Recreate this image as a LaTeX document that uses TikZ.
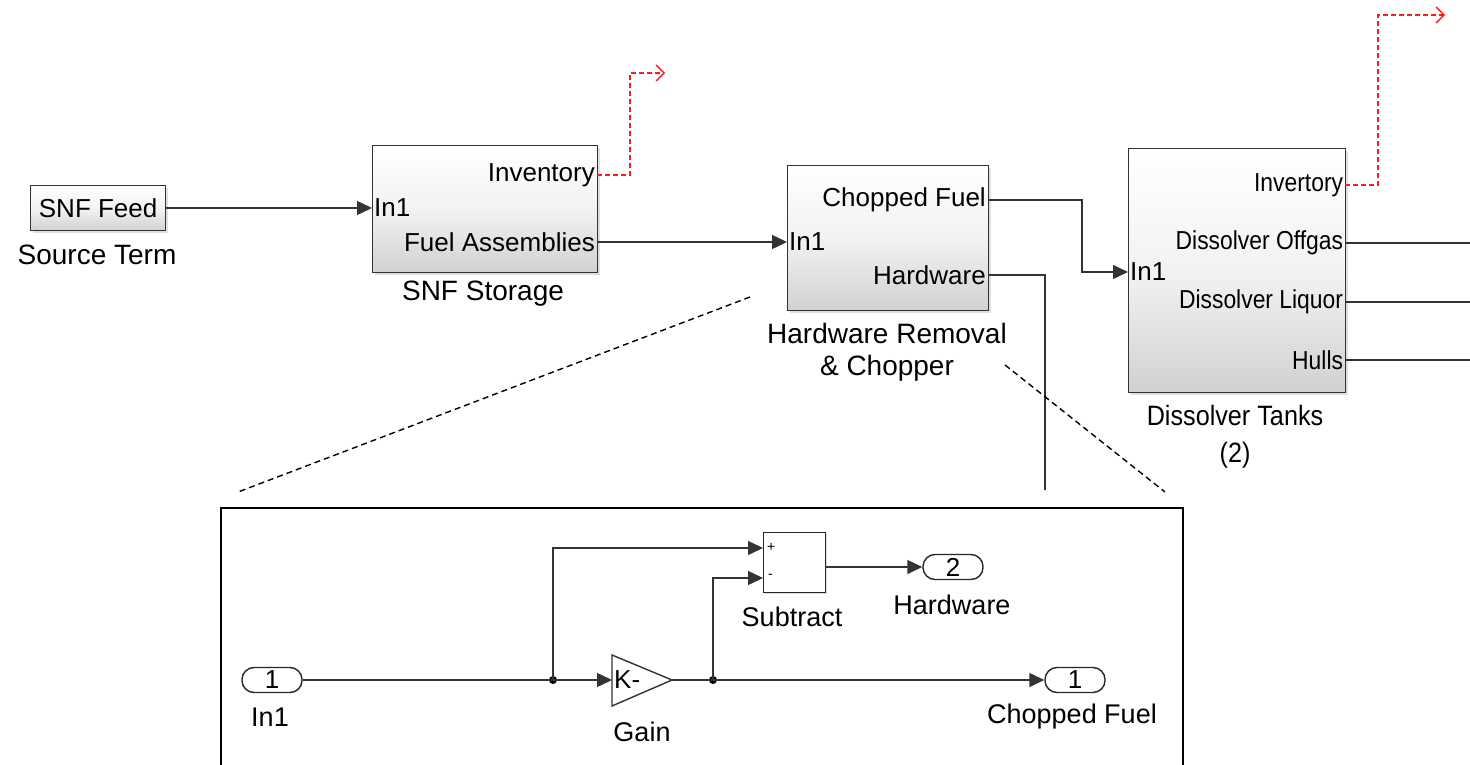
\documentclass[tikz,border=0pt]{standalone}
\usepackage{fontspec}
\setmainfont{Liberation Sans}
\usetikzlibrary{arrows.meta,shadows}
\newcommand\fsPort{\fontsize{26}{30}\selectfont}
\newcommand\fsLbl{\fontsize{28}{32}\selectfont}
\newcommand\fsIn{\fontsize{26}{30}\selectfont}
\newcommand\fsZ{\fontsize{27}{31}\selectfont}
\begin{document}
\begin{tikzpicture}[x=1pt,y=-1pt,
  blk/.style={draw=black!80, line width=1.3pt, top color=white, bottom color=black!18,
    middle color=black!5, drop shadow={shadow xshift=2pt, shadow yshift=-2pt, fill=black!25},
    anchor=north west, inner sep=0pt},
  wire/.style={draw=black!80, line width=1.4pt},
  arr/.style={wire, -{Triangle[length=15pt,width=14pt]}},
  sig/.style={draw=red!90, line width=1.4pt, dash pattern=on 5pt off 3pt, -{Straight Barb[length=8pt,width=16pt]}},
  zoomln/.style={draw=black, line width=1.4pt, dash pattern=on 6pt off 4pt},
  plbl/.style={font=\fsPort, inner sep=2pt},
  lbl/.style={font=\fsLbl, inner sep=0pt},
  zlbl/.style={font=\fsZ, inner sep=0pt},
  port/.style={draw=black!85, line width=1.4pt, rounded corners=12pt, minimum width=60pt, minimum height=25pt, inner sep=0pt, font=\fsIn},
  dot/.style={fill=black, circle, inner sep=0pt, minimum size=8pt}
]
\path[use as bounding box] (0,0) rectangle (1470,765);

% ---------- top level ----------
\node[blk, minimum width=135pt, minimum height=45pt, font=\fsIn] (feed) at (30,185) {SNF Feed};
\node[lbl] (feedl) at (97,255) {Source Term};

\node[blk, minimum width=225pt, minimum height=127pt] (stor) at (372,145) {};
\coordinate (sin) at (372,208);
\coordinate (sinv) at (597,175);
\coordinate (sfa) at (597,242);
\node[plbl, anchor=east] at (sinv) {Inventory};
\node[plbl, anchor=west] at (sin) {In1};
\node[plbl, anchor=east] at (sfa) {Fuel Assemblies};
\node[lbl] (storl) at (483,294) {SNF Storage};

\node[blk, minimum width=201pt, minimum height=145pt] (hw) at (787,165) {};
\coordinate (hin) at (787,242);
\coordinate (hcf) at (988,200);
\coordinate (hhw) at (988,275);
\node[plbl, anchor=east] at (hcf) {Chopped Fuel};
\node[plbl, anchor=west] at (hin) {In1};
\node[plbl, anchor=east] at (hhw) {Hardware};
\node[lbl] (hwl1) at (887,333) {Hardware Removal};
\node[lbl] (hwl2) at (887,368) {\& Chopper};

\node[blk, minimum width=217pt, minimum height=244pt] (dis) at (1128,148) {};
\coordinate (din) at (1128,272);
\coordinate (dinv) at (1345,185);
\coordinate (dog) at (1345,243);
\coordinate (dlq) at (1345,302);
\coordinate (dhl) at (1345,360);
\node[plbl, anchor=west] at (din) {In1};
\node[plbl, anchor=east, xscale=0.88] at (dinv) {Invertory};
\node[plbl, anchor=east, xscale=0.88] at (dog) {Dissolver Offgas};
\node[plbl, anchor=east, xscale=0.88] at (dlq) {Dissolver Liquor};
\node[plbl, anchor=east, xscale=0.88] at (dhl) {Hulls};
\node[lbl, xscale=0.9] (disl1) at (1235,415) {Dissolver Tanks};
\node[lbl, xscale=0.9] (disl2) at (1235,455) {(2)};

\coordinate (sredend) at (665,73);
\coordinate (dredend) at (1445,15);
\coordinate (hwend) at (1045,490);
\coordinate (o1) at (1470,243);
\coordinate (o2) at (1470,302);
\coordinate (o3) at (1470,360);

\draw[arr] (feed.east |- sin) -- (sin);
\draw[arr] (sfa) -- (hin);
\draw[arr] (hcf) -- (1082,200) |- (din);
\draw[wire] (hhw) -| (hwend);
\draw[wire] (dog) -- (o1);
\draw[wire] (dlq) -- (o2);
\draw[wire] (dhl) -- (o3);
\draw[sig] (sinv) -- (630,175) |- (sredend);
\draw[sig] (dinv) -- (1378,185) |- (dredend);

% ---------- zoom lines ----------
\coordinate (za) at (750,297);
\coordinate (zb) at (238,492);
\coordinate (zc) at (1005,365);
\coordinate (zd) at (1165,492);
\draw[zoomln] (za) -- (zb);
\draw[zoomln] (zc) -- (zd);

% ---------- zoom box ----------
\node[draw=black, line width=2pt, anchor=north west, minimum width=962pt, minimum height=270pt, inner sep=0pt] (zbox) at (220,507) {};

\node[port] (p1) at (272,680) {1};
\node[zlbl] (p1l) at (270,717) {In1};

\coordinate (gin) at (612,680);
\coordinate (gout) at (672,680);
\draw[wire, fill=white] (612,655) -- (gout) -- (612,706) -- cycle;
\node[font=\fsIn, anchor=west, inner sep=1pt] (gk) at (613,680) {K-};
\node[zlbl] (gl) at (642,732) {Gain};

\node[draw=black!85, line width=1.4pt, anchor=north west, minimum width=62pt, minimum height=60pt, inner sep=0pt,
  drop shadow={shadow xshift=1.5pt, shadow yshift=-1.5pt, fill=black!25}, fill=white] (sub) at (763,532) {};
\coordinate (splus) at (763,548);
\coordinate (sminus) at (763,578);
\coordinate (subout) at (825,567);
\node[font=\fontsize{14}{16}\selectfont, anchor=west, inner sep=1pt] at (766,547) {+};
\node[font=\fontsize{14}{16}\selectfont, anchor=west, inner sep=1pt] at (767,576) {-};
\node[zlbl] (subl) at (792,617) {Subtract};

\node[port] (op2) at (953,567) {2};
\node[zlbl] (op2l) at (952,605) {Hardware};
\node[port] (op1) at (1075,680) {1};
\node[zlbl] (op1l) at (1072,717) {Chopped Fuel};

\node[dot] (d1) at (553,680) {};
\node[dot] (d2) at (713,680) {};

\draw[arr] (p1.east) -- (gin);
\draw[arr] (d1.center) |- (splus);
\draw[arr] (gout) -- (op1.west);
\draw[arr] (d2.center) |- (sminus);
\draw[arr] (subout) -- (op2.west);
\end{tikzpicture}
\end{document}
